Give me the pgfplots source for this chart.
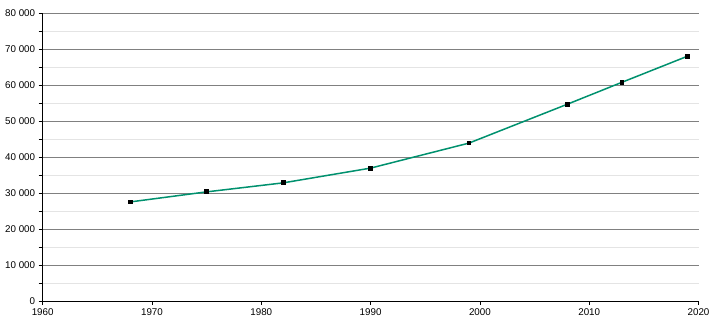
\documentclass[border=0pt]{standalone}
\usepackage{pgfplots}
\pgfplotsset{compat=1.18}
\usepackage{fontspec}
\setmainfont{Liberation Sans}
\definecolor{linegreen}{RGB}{0,145,110}
\definecolor{majgrid}{RGB}{128,128,128}
\definecolor{mingrid}{RGB}{228,228,228}
\begin{document}
\begin{tikzpicture}
\begin{axis}[
  scale only axis, width=656pt, height=288pt,
  xmin=1960, xmax=2020, ymin=0, ymax=80000,
  axis x line=bottom, axis y line=left,
  axis line style={-, black, line width=0.8pt},
  xtick={1960,1970,...,2020},
  ytick={0,10000,...,80000},
  minor ytick={5000,15000,...,75000},
  ymajorgrids, yminorgrids,
  major grid style={majgrid, line width=0.7pt},
  minor grid style={mingrid, line width=0.7pt},
  tick align=outside,
  major tick length=4pt, minor tick length=4pt,
  tick style={black, line width=0.7pt},
  tick label style={font=\fontsize{9.8}{11}\selectfont},
  /pgf/number format/assume math mode=true,
  scaled y ticks=false,
  yticklabel style={/pgf/number format/1000 sep={\ }},
  xticklabel style={/pgf/number format/1000 sep={}},
  clip=false,
]
\addplot[linegreen, line width=1.5pt, mark=square*, mark size=1.9pt,
  mark options={black, fill=black, line width=0pt}] coordinates {
  (1968,27500) (1975,30300) (1982,32800) (1990,36900)
  (1999,43850) (2008,54650) (2013,60750) (2019,68000)
};
\end{axis}
\pgfresetboundingbox
\path (current axis.south west) ++(-42.7pt,-20pt) coordinate (bl);
\path (current axis.north east) ++(11.5pt,13pt) coordinate (tr);
\path[use as bounding box] (bl) rectangle (tr);
\end{tikzpicture}
\end{document}
